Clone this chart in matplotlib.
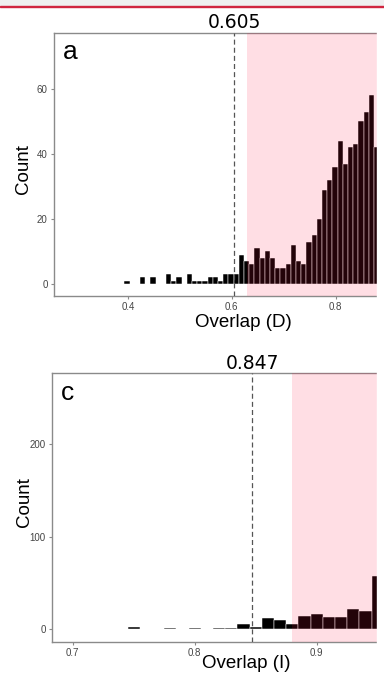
import matplotlib
matplotlib.use("Agg")
import matplotlib.pyplot as plt
from matplotlib.patches import Rectangle
from matplotlib.transforms import blended_transform_factory

# --- data -----------------------------------------------------------------------

# panel a: overlap (D) histogram, bin centres and counts (visible part only)
d_centers = [0.3985, 0.4285, 0.4485, 0.4785, 0.4885, 0.4985, 0.5185, 0.5285,
             0.5385, 0.5485, 0.5585, 0.5685, 0.5785, 0.5885, 0.5985, 0.6085,
             0.6185, 0.6285, 0.6385, 0.6485, 0.6585, 0.6685, 0.6785, 0.6885,
             0.6985, 0.7085, 0.7185, 0.7285, 0.7385, 0.7485, 0.7585, 0.7685,
             0.7785, 0.7885, 0.7985, 0.8085, 0.8185, 0.8285, 0.8385, 0.8485,
             0.8585, 0.8685, 0.8785]
d_counts = [1, 2, 2, 3, 1, 2, 3, 1,
            1, 1, 2, 2, 1, 3, 3, 3,
            9, 7, 6, 11, 8, 10, 8, 5,
            5, 6, 12, 7, 6, 13, 15, 20,
            29, 32, 36, 44, 37, 42, 43, 50,
            53, 58, 42]
d_observed = 0.605
d_shade_from = 0.629
d_xticks = [0.4, 0.6, 0.8]
d_yticks = [0, 20, 40, 60]

# panel c: overlap (I) histogram
i_centers = [0.75, 0.78, 0.80, 0.82, 0.83, 0.84, 0.85, 0.86, 0.87, 0.88,
             0.89, 0.90, 0.91, 0.92, 0.93, 0.94, 0.95]
i_counts = [2, 1, 1, 1, 1, 5, 2, 12, 10, 6,
            14, 16, 13, 13, 22, 20, 57]
i_observed = 0.847
i_shade_from = 0.8795
i_xticks = [0.7, 0.8, 0.9]
i_yticks = [0, 100, 200]

BIN_W = 0.01
PINK = "#FF1744"
SPINE = "#8a8a8a"
TICKTXT = "#444444"


def draw_panel(fig, rect, centers, counts, observed, shade_from, xlim, ylim,
               xticks, yticks, xlabel, letter, title_y, ylab_pos, xlab_y):
    ax = fig.add_axes(rect)
    ax.bar(centers, counts, width=BIN_W, color="black", edgecolor="white",
           linewidth=0.35, zorder=2)
    ax.axvspan(shade_from, xlim[1], color=PINK, alpha=0.14, lw=0, zorder=3)
    ax.axvline(observed, color="#555555", ls=(0, (4, 2.5)), lw=0.9, zorder=4)
    ax.set_xlim(*xlim)
    ax.set_ylim(*ylim)
    ax.set_xticks(xticks)
    ax.set_yticks(yticks)
    ax.set_xticklabels([f"{t:g}" for t in xticks])
    ax.tick_params(labelsize=7, colors=SPINE, labelcolor=TICKTXT,
                   length=2.5, width=0.8, pad=2)
    for lab in ax.get_xticklabels() + ax.get_yticklabels():
        lab.set_family("Liberation Sans")
    for sp in ax.spines.values():
        sp.set_edgecolor(SPINE)
        sp.set_linewidth(1.0)
    ax.set_xlabel(xlabel, fontsize=13.5, family="Liberation Sans", va="top")
    ax.set_ylabel("Count", fontsize=13.5, family="Liberation Sans")
    ax.xaxis.set_label_coords(0.5, xlab_y)
    ax.yaxis.set_label_coords(*ylab_pos)
    ax.text(0.024, 0.9, letter, transform=ax.transAxes, fontsize=19,
            family="Liberation Sans", va="baseline", ha="left")
    trans = blended_transform_factory(ax.transData, ax.transAxes)
    ax.text(observed, title_y, f"{observed:.3f}", transform=trans,
            fontsize=13.5, ha="center", va="baseline", family="DejaVu Sans")
    return ax


fig = plt.figure(figsize=(3.84, 6.76), dpi=100)
W, H = 384.0, 676.0

# panel a: axes spans x 54..433 px, y 33..296 px (right part cropped away)
draw_panel(fig, [54 / W, 1 - 296 / H, (433 - 54) / W, (296 - 33) / H],
           d_centers, d_counts, d_observed, d_shade_from,
           (0.258, 0.987), (-3.7, 77.2), d_xticks, d_yticks,
           "Overlap (D)", "a", 1.02, (-0.058, 0.483), -0.068)

# panel c: axes spans x 52..440 px, y 373..642 px
draw_panel(fig, [52 / W, 1 - 642 / H, (440 - 52) / W, (642 - 373) / H],
           i_centers, i_counts, i_observed, i_shade_from,
           (0.683, 1.001), (-14, 277), i_xticks, i_yticks,
           "Overlap (I)", "c", 1.014, (-0.049, 0.519), -0.048)

# screenshot framing: grey strip + red rule on top, white margin on the right
fig.patches.append(Rectangle((377 / W, 0), 1 - 377 / W, 1 - 7 / H,
                             transform=fig.transFigure, color="white",
                             zorder=10))
fig.patches.append(Rectangle((0, 1 - 6 / H), 1, 6 / H,
                             transform=fig.transFigure, color="#efefef",
                             zorder=10))
fig.patches.append(Rectangle((0, 1 - 7 / H), 1, 1.2 / H,
                             transform=fig.transFigure, color="#d0253f",
                             zorder=11))

fig.savefig("out.png", dpi=100)
